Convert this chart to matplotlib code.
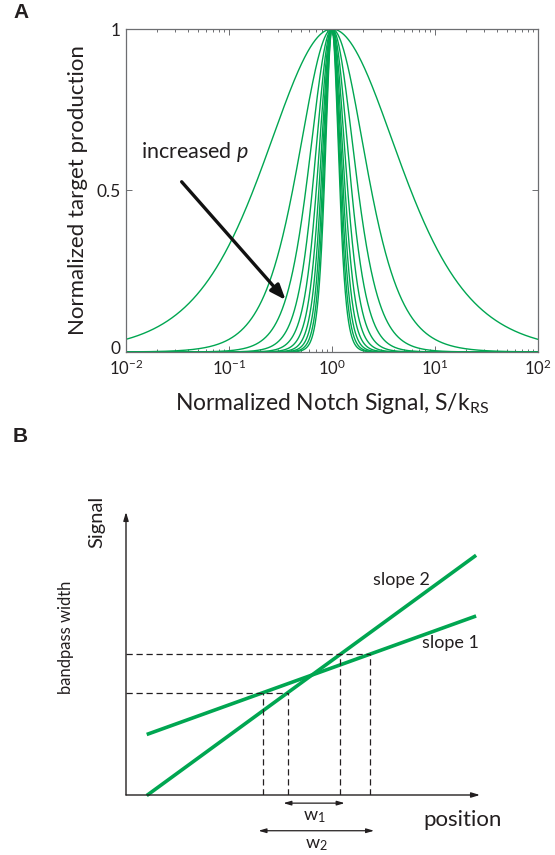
import numpy as np
import matplotlib
matplotlib.use("Agg")
import matplotlib.pyplot as plt
from matplotlib.transforms import ScaledTranslation

plt.rcParams['font.family'] = ['Lato', 'DejaVu Sans']
plt.rcParams['mathtext.fontset'] = 'custom'
plt.rcParams['mathtext.rm'] = 'Lato'
plt.rcParams['mathtext.it'] = 'Lato:italic'

GREEN = '#00A651'
TEXT = '#231F20'

# ---- Panel A data: Hill exponents of the bandpass response curves ----
hill_p = [1, 2, 3, 4, 5, 6, 7, 8, 9, 10]
x_ticks = [1e-2, 1e-1, 1e0, 1e1, 1e2]
x_tick_labels = ['$10^{-2}$', '$10^{-1}$', '$10^{0}$', '$10^{1}$', '$10^{2}$']
y_ticks = [0, 0.5, 1]
y_tick_labels = ['0', '0.5', '1']

# ---- Panel B data: schematic signal gradients ----
slopes = [0.36, 0.73]            # slope 1, slope 2
cross_pos, cross_sig = 5.25, 3.39
thresholds = [2.89, 3.98]        # lower / upper signal bounds
pos_range = [0.585, 9.89]

W, H = 555, 855
fig = plt.figure(figsize=(W / 100, H / 100), dpi=100)


def fx(px):
    return px / W


def fy(py):
    return 1 - py / H


# ---------------- Panel A ----------------
axA = fig.add_axes([fx(126), fy(352), fx(538) - fx(126), fy(29) - fy(352)])
s = np.logspace(-2, 2, 2000)
for p in hill_p:
    r = s ** p
    axA.plot(s, 4 * r / (1 + r) ** 2, color=GREEN, lw=1.0)
axA.set_xscale('log')
axA.set_xlim(1e-2, 1e2)
axA.set_ylim(0, 1)
axA.set_xticks(x_ticks)
axA.set_xticklabels(x_tick_labels)
axA.set_yticks(y_ticks)
axA.set_yticklabels(y_tick_labels)
for sp in axA.spines.values():
    sp.set_color('#6d6e71')
    sp.set_linewidth(0.9)
axA.tick_params(which='both', direction='in', top=True, right=True,
                colors='#6d6e71', labelcolor=TEXT, width=0.7)
axA.tick_params(axis='x', labelsize=12, pad=5)
axA.tick_params(axis='y', labelsize=12.5, pad=4)
axA.tick_params(which='major', length=4)
axA.tick_params(which='minor', length=2)
# lift the "0" label a little so it clears the first x tick label
zero_lbl = axA.get_yticklabels()[0]
zero_lbl.set_transform(zero_lbl.get_transform() +
                       ScaledTranslation(0, 3 / 72, fig.dpi_scale_trans))
axA.set_xlabel('Normalized Notch Signal, S/k$_{\\mathrm{RS}}$', fontsize=16.5,
               color=TEXT, labelpad=9)
axA.set_ylabel('Normalized target production', fontsize=16, color=TEXT,
               labelpad=6)
axA.annotate('', xy=(0.355, 0.161), xytext=(0.0347, 0.527),
             arrowprops=dict(arrowstyle='-|>,head_length=0.9,head_width=0.35',
                             color='#111111', lw=2.4, shrinkA=0, shrinkB=0))
axA.text(0.0139, 0.619, 'increased $\\mathit{p}$', fontsize=15.5, color=TEXT,
         ha='left', va='center')

fig.text(fx(13), fy(12), 'A', fontsize=15, fontweight='bold',
         family=['Liberation Sans'], ha='left', va='center', color=TEXT)
fig.text(fx(13), fy(437), 'B', fontsize=15, fontweight='bold',
         family=['Liberation Sans'], ha='left', va='center', color=TEXT)

# ---------------- Panel B ----------------
axB = fig.add_axes([fx(126), fy(795), fx(480) - fx(126), fy(512) - fy(795)])
axB.set_xlim(0, 10)
axB.set_ylim(0, 8)
axB.axis('off')

# axes arrows
axB.annotate('', xy=(10, 0), xytext=(0, 0),
             arrowprops=dict(arrowstyle='-|>,head_length=0.5,head_width=0.15',
                             color=TEXT, lw=1.0, shrinkA=0, shrinkB=0),
             annotation_clip=False)
axB.annotate('', xy=(0, 8), xytext=(0, 0),
             arrowprops=dict(arrowstyle='-|>,head_length=0.5,head_width=0.15',
                             color=TEXT, lw=1.0, shrinkA=0, shrinkB=0),
             annotation_clip=False)

pos = np.array(pos_range)
for k in slopes:
    axB.plot(pos, cross_sig + k * (pos - cross_pos), color=GREEN, lw=2.6,
             solid_capstyle='butt', clip_on=False)

# threshold crossings of each gradient
cross = {k: [cross_pos + (t - cross_sig) / k for t in thresholds] for k in slopes}
dash = dict(color='#231F20', lw=0.9, dashes=(5, 3))
for i, t in enumerate(thresholds):
    xs = [cross[k][i] for k in slopes]
    axB.plot([0, max(xs)], [t, t], **dash)
    for xv in xs:
        axB.plot([xv, xv], [0, t], **dash)

pad = 0.12
w_rows = [(slopes[1], -0.23, 'w$_1$', -0.62), (slopes[0], -1.01, 'w$_2$', -1.42)]
for k, yrow, lab, ylab in w_rows:
    a, b = cross[k]
    axB.annotate('', xy=(a - pad, yrow), xytext=(b + pad, yrow),
                 arrowprops=dict(arrowstyle='<|-|>,head_length=0.45,head_width=0.13',
                                 color=TEXT, lw=0.9, shrinkA=0, shrinkB=0),
                 annotation_clip=False)
    axB.text((a + b) / 2, ylab, lab, fontsize=13, color=TEXT, ha='center',
             va='center', clip_on=False)

axB.text(6.98, 6.07, 'slope 2', fontsize=13, color=TEXT, ha='left', va='center')
axB.text(8.35, 4.29, 'slope 1', fontsize=13, color=TEXT, ha='left', va='center')
axB.text(8.4, -0.7, 'position', fontsize=16, color=TEXT, ha='left', va='center',
         clip_on=False)
fig.text(fx(97), fy(522), 'Signal', fontsize=14.5, color=TEXT, rotation=90,
         ha='center', va='center')
fig.text(fx(66), fy(637), 'bandpass width', fontsize=12, color=TEXT, rotation=90,
         ha='center', va='center')

fig.savefig('out.png', dpi=100)
